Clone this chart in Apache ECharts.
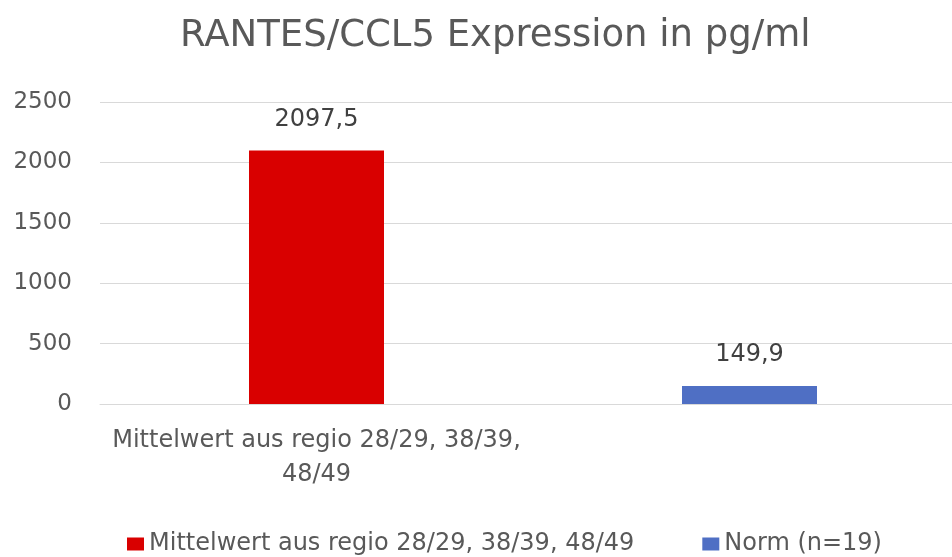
<!DOCTYPE html>
<html><head><meta charset="utf-8">
<script src="https://cdn.jsdelivr.net/npm/echarts@6/dist/echarts.min.js"></script>
<style>html,body{margin:0;padding:0;background:#fff;overflow:hidden;width:952px;height:557px}#c{width:966px;height:557px}</style>
</head><body><div id="c"></div>
<script>
const categories = ['Mittelwert aus regio 28/29, 38/39, 48/49', 'Norm (n=19)'];
const seriesNames = ['Mittelwert aus regio 28/29, 38/39, 48/49', 'Norm (n=19)'];
const meanValues = [2097.5, '-'];
const normValues = ['-', 149.9];
const yTicks = [0, 500, 1000, 1500, 2000, 2500];

const FONT = 'DejaVu Sans';
const chart = echarts.init(document.getElementById('c'));
const labelFmt = p => String(p.value).replace('.', ',');
chart.setOption({
  animation: false,
  textStyle: { fontFamily: FONT },
  title: {
    text: 'RANTES/CCL5 Expression in pg/ml',
    left: 175, top: 13,
    textStyle: { fontFamily: FONT, fontSize: 37, fontWeight: 'normal', color: '#595959' }
  },
  legend: {
    top: 527, left: 122, itemGap: 68,
    icon: 'rect', itemWidth: 17, itemHeight: 13,
    textStyle: { fontFamily: FONT, fontSize: 24, color: '#595959' },
    data: seriesNames
  },
  grid: { left: 100, top: 102, height: 302, right: 0 },
  xAxis: {
    type: 'category', data: categories,
    axisLine: { lineStyle: { color: '#d9d9d9' } },
    axisTick: { show: false },
    axisLabel: {
      margin: 20, fontSize: 24, color: '#595959', fontFamily: FONT, align: 'center',
      formatter: v => v === categories[0] ? 'Mittelwert aus regio 28/29, 38/39,\n48/49' : v,
      lineHeight: 34
    }
  },
  yAxis: {
    type: 'value', min: yTicks[0], max: yTicks[yTicks.length - 1], interval: 500,
    axisLine: { show: false }, axisTick: { show: false },
    splitLine: { lineStyle: { color: '#d9d9d9' } },
    axisLabel: { fontSize: 23, color: '#595959', fontFamily: FONT, margin: 28, formatter: v => String(v) }
  },
  series: [
    { name: seriesNames[0], type: 'bar', data: meanValues, barWidth: 135, barGap: '-100%',
      itemStyle: { color: '#d90000' },
      label: { show: true, position: 'top', distance: 19, fontSize: 24, color: '#404040', fontFamily: FONT, formatter: labelFmt } },
    { name: seriesNames[1], type: 'bar', data: normValues, barWidth: 135, barGap: '-100%',
      itemStyle: { color: '#4f6fc4' },
      label: { show: true, position: 'top', distance: 19, fontSize: 24, color: '#404040', fontFamily: FONT, formatter: labelFmt } }
  ]
});
</script></body></html>
